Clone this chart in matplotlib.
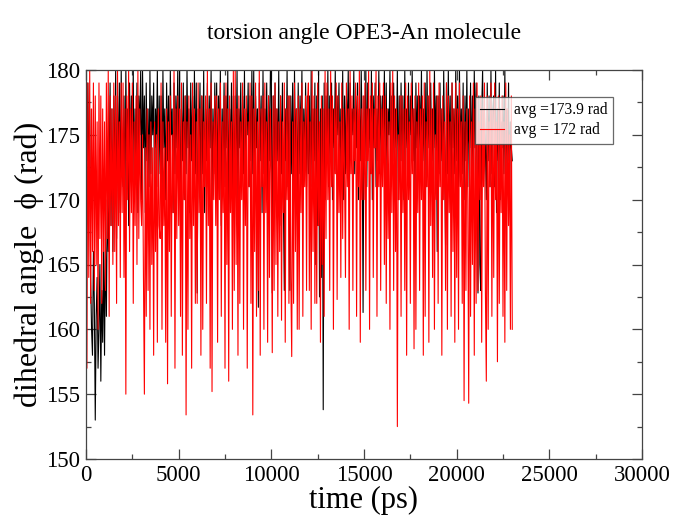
import matplotlib
matplotlib.use("Agg")
import matplotlib.pyplot as plt
import numpy as np
from matplotlib.ticker import MultipleLocator

plt.rcParams["font.family"] = ["Liberation Serif", "DejaVu Serif"]

TIME_STEP = 50
BLACK_PHI = [
    178, 173, 179, 171, 177, 164, 160, 158, 166, 162, 153, 161, 164, 157, 160, 165, 156, 163, 159, 166,
    158, 167, 161, 170, 166, 172, 179, 168, 177, 166, 178, 170, 180, 167, 178, 172, 179, 169, 180, 173,
    171, 178, 169, 180, 173, 177, 168, 179, 172, 178, 174, 180, 170, 177, 173, 179, 169, 178, 175, 180,
    170, 180, 174, 178, 169, 179, 173, 177, 171, 180, 172, 178, 175, 179, 170, 177, 174, 180, 171, 178,
    172, 178, 169, 180, 174, 177, 170, 179, 173, 178, 171, 180, 175, 177, 169, 179, 172, 178, 174, 180,
    171, 180, 168, 177, 173, 179, 170, 178, 172, 180, 174, 177, 169, 179, 173, 178, 170, 180, 172, 179,
    162.8, 177, 174, 179, 170, 178, 172, 180, 169, 177, 173, 179, 171, 178, 174, 180, 170, 177, 172, 179,
    173, 179, 170, 178, 174, 180, 168, 177, 172, 179, 171, 178, 174, 180, 169, 177, 173, 179, 170, 178,
    170, 178, 173, 180, 169, 177, 174, 179, 171, 178, 172, 180, 170, 177, 175, 179, 171, 178, 173, 180,
    172, 180, 170, 178, 174, 177, 161.7, 179, 173, 178, 169, 180, 172, 177, 174, 179, 170, 178, 173, 180,
    180, 162.8, 178, 171, 179, 170, 177, 173, 180, 168, 178, 172, 179, 170, 163, 177, 173, 180, 171, 178,
    163, 178, 172, 179, 170, 180, 173, 177, 169, 179, 172, 178, 174, 180, 170, 177, 173, 179, 171, 178,
    172, 178, 170, 180, 171, 177, 173, 179, 165, 178, 168, 180, 162.5, 177, 164, 178, 153.8, 179, 170, 178,
    174, 180, 171, 178, 173, 179, 170, 177, 174, 180, 172, 178, 175, 179, 171, 177, 173, 180, 170, 178,
    172, 178, 175, 180, 171, 179, 173, 177, 175, 180, 172, 178, 174, 179, 170, 177, 173, 180, 175, 161.3,
    178, 173, 180, 171, 179, 174, 177, 172, 180, 170, 178, 174, 179, 171, 177, 173, 180, 172, 178, 174,
    178, 174, 180, 172, 179, 170, 177, 175, 180, 171, 178, 173, 179, 172, 177, 174, 180, 170, 178, 173,
    179, 173, 178, 170, 180, 174, 177, 172, 179, 171, 178, 175, 180, 173, 177, 170, 179, 174, 178, 172,
    178, 174, 180, 172, 177, 173, 179, 171, 180, 174, 178, 172, 179, 173, 177, 170, 180, 174, 178, 166,
    178, 172, 179, 173, 177, 170, 180, 174, 166.5, 179, 172, 180, 173, 178, 170, 179, 174, 177, 172, 180,
    173, 178, 171, 180, 174, 177, 172, 179, 170, 178, 173, 180, 171, 177, 174, 179, 172, 178, 170, 180,
    174, 179, 172, 162.8, 178, 165, 163, 177, 180, 172, 177, 174, 170, 179, 173, 178, 171, 180, 172, 177,
    178, 171, 180, 169, 177, 173, 179, 170, 176, 174, 178, 172, 180, 171, 177, 173, 179, 170, 176, 174,
    173,
]
RED_PHI = [
    178, 157, 179, 164, 180, 162, 177, 166, 179, 163, 178, 165, 176, 160, 179, 167, 178, 162, 177, 166,
    176, 163, 179, 167, 180, 161, 178, 168, 177, 165, 179, 166, 178, 162, 180, 168, 176, 164, 179, 169,
    179, 164, 177, 155, 178, 170, 180, 166, 177, 169, 179, 162, 176, 168, 178, 165, 180, 167, 177, 170,
    168, 175, 164, 155, 174, 161, 177, 163, 175, 160, 176, 165, 174, 158, 176, 166, 175, 159, 177, 168,
    167, 179, 160, 176, 168, 174, 159, 177, 155.8, 176, 166, 178, 161, 175, 169, 180, 157, 177, 167, 178,
    168, 177, 161, 179, 158, 176, 170, 178, 153.4, 176, 160, 178, 167, 175, 157, 179, 168, 177, 162, 176,
    162, 179, 169, 177, 158, 178, 160, 176, 171, 178, 162, 180, 168, 177, 157, 179, 155.2, 176, 170, 178,
    168, 178, 159, 177, 170, 179, 161, 176, 169, 178, 157, 179, 165, 177, 156, 178, 169, 176, 160, 180,
    163, 180, 165, 177, 158, 178, 162, 176, 170, 179, 160, 177, 168, 178, 157, 176, 171, 179, 162, 178,
    153.4, 177, 166, 179, 161, 176, 163, 180, 158, 177, 171, 178, 160, 179, 169, 176, 159, 178, 164, 177,
    172, 158.2, 178, 163, 179, 165, 177, 161, 176, 166, 178, 160.7, 176, 169, 179, 159, 177, 170, 178, 162,
    178, 164, 157.9, 176, 162, 179, 166, 177, 160, 178, 160, 177, 169, 179, 161, 176, 171, 178, 163, 177,
    179, 163, 176, 160, 180, 166, 178, 162, 177, 162, 179, 168, 176, 159, 178, 165, 177, 161, 180, 167,
    179, 170, 177, 163, 180, 171, 178, 160, 177, 172, 179, 162.3, 178, 169, 176, 164, 179, 167, 177, 172,
    164, 179, 171, 177, 160, 180, 172, 178, 163, 177, 173, 179, 161, 178, 171, 180, 159, 177, 170, 178,
    170, 179, 163, 177, 173, 180, 160, 178, 172, 179, 164, 177, 174, 180, 161, 178, 171, 179, 163, 177,
    171, 179, 165, 178, 162, 177, 167, 176, 160, 179, 169, 180, 163, 178, 166, 177, 152.5, 175, 170, 178,
    161, 178, 169, 177, 163, 179, 158, 178, 170, 176, 162, 179, 172, 177, 158.5, 178, 160, 176, 169, 179,
    163, 177, 170, 178, 158, 179, 161, 176, 171, 178, 159, 180, 168, 177, 164, 179, 160, 175, 170, 178,
    162, 179, 171, 177, 158, 178, 170, 176, 163, 179, 160, 178, 169, 176, 161, 179, 166, 177, 159, 179,
    164, 177, 160, 179, 171, 176, 162, 178, 154.5, 176, 163, 177, 170, 154.3, 178, 161, 176, 165, 179, 158,
    177, 162, 179, 163, 176, 170, 178, 159, 177, 171, 179, 163, 156, 178, 160, 176, 171, 179, 161, 177,
    164, 179, 170, 176, 157.5, 178, 162, 177, 169, 178, 161, 176, 159, 179, 163, 177, 168, 175, 160, 178,
    160,
]
LABELS = ["avg =173.9 rad", "avg = 172 rad"]


def main():
    t_black = np.arange(len(BLACK_PHI)) * TIME_STEP
    t_red = np.arange(len(RED_PHI)) * TIME_STEP

    fig = plt.figure(figsize=(6.74, 5.16), dpi=100)
    ax = fig.add_axes([86 / 674, 57 / 516, 556 / 674, 389 / 516])

    ax.plot(t_black, BLACK_PHI, color="black", lw=0.8, label=LABELS[0])
    ax.plot(t_red, RED_PHI, color="#ff0000", lw=0.8, label=LABELS[1])

    ax.set_xlim(0, 30000)
    ax.set_ylim(150, 180)
    ax.xaxis.set_major_locator(MultipleLocator(5000))
    ax.xaxis.set_minor_locator(MultipleLocator(2500))
    ax.yaxis.set_major_locator(MultipleLocator(5))
    ax.yaxis.set_minor_locator(MultipleLocator(2.5))
    ax.tick_params(which="both", direction="in", top=True, right=True,
                   colors="#444444", labelcolor="black", labelsize=16.5)
    ax.tick_params(which="major", length=7, width=0.9, pad=4)
    ax.tick_params(which="minor", length=3.5, width=0.9)
    for s in ax.spines.values():
        s.set_color("#444444")
        s.set_linewidth(0.9)

    ax.set_xlabel("time (ps)", fontsize=22, labelpad=0)
    ax.set_ylabel("dihedral angle  \u03d5 (rad)", fontsize=23, labelpad=2)
    ax.set_title("torsion angle OPE3-An molecule", fontsize=17, pad=22)

    leg = ax.legend(loc="upper left", bbox_to_anchor=(0.6996, 0.9306),
                    borderaxespad=0, fontsize=11.2, frameon=True,
                    fancybox=False, edgecolor="#444444", handlelength=1.5,
                    handletextpad=0.65, borderpad=0.35, labelspacing=0.25)
    leg.get_frame().set_linewidth(0.9)

    fig.savefig("out.png", dpi=100)


if __name__ == "__main__":
    main()
